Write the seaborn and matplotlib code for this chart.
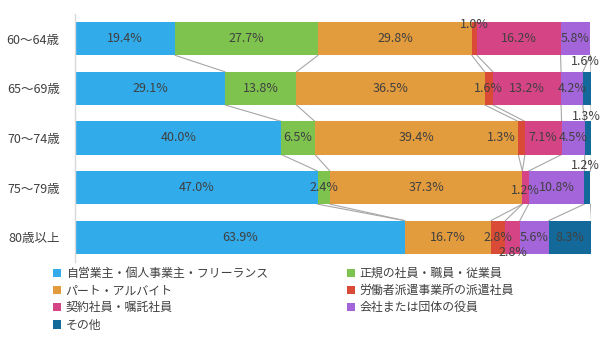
import numpy as np
import pandas as pd
import matplotlib
matplotlib.use('Agg')
import matplotlib.pyplot as plt
import seaborn as sns
from matplotlib.patches import Patch

sns.set_style('white')
plt.rcParams['font.family'] = ['Noto Sans CJK JP', 'DejaVu Sans']

######## data ########
ages = ['60～64歳', '65～69歳', '70～74歳', '75～79歳', '80歳以上']
series_names = ['自営業主・個人事業主・フリーランス', '正規の社員・職員・従業員', 'パート・アルバイト',
                '労働者派遣事業所の派遣社員', '契約社員・嘱託社員', '会社または団体の役員', 'その他']
self_emp = [19.4, 29.1, 40.0, 47.0, 63.9]
regular  = [27.7, 13.8, 6.5, 2.4, 0.0]
part     = [29.8, 36.5, 39.4, 37.3, 16.7]
dispatch = [1.0, 1.6, 1.3, 0.0, 2.8]
contract = [16.2, 13.2, 7.1, 1.2, 2.8]
officer  = [5.8, 4.2, 4.5, 10.8, 5.6]
other    = [0.0, 1.6, 1.3, 1.2, 8.3]

colors = ['#31ABE9', '#7FC34F', '#E29B3D', '#D94B36', '#D54585', '#A465DB', '#136A9A']
# labels that were moved by hand in the original: (row, series) -> (dx in %, dy in rows)
label_offsets = {(0, 3): (0, -0.29), (1, 6): (-0.3, -0.54), (2, 6): (-0.3, -0.43),
                 (3, 6): (-0.3, -0.45), (2, 3): (-4.0, 0), (4, 4): (0, 0.31), (3, 4): (0, 0.05)}

vals = np.array([self_emp, regular, part, dispatch, contract, officer, other]).T  # rows x series
cum = np.cumsum(vals, axis=1)
left = cum - vals
bar_h = 0.667

fig = plt.figure(figsize=(6.05, 3.53), dpi=100)
ax = fig.add_axes([75/605, 1-262/353, 516/605, 248/353])

# stacked bars: draw cumulative totals from last series to first so they overlap
for k in reversed(range(len(series_names))):
    df = pd.DataFrame({'age': ages, 'value': cum[:, k]})
    sns.barplot(data=df, x='value', y='age', orient='h', color=colors[k], saturation=1,
                width=bar_h, linewidth=0, ax=ax, zorder=2)

# series lines between bars
for i in range(len(ages)-1):
    for k in range(len(series_names)):
        ax.plot([cum[i, k], cum[i+1, k]], [i+bar_h/2, i+1-bar_h/2], color='#A6A6A6', lw=0.8, zorder=1)

# data labels
for i in range(len(ages)):
    for k in range(len(series_names)):
        v = vals[i, k]
        if v == 0:
            continue
        dx, dy = label_offsets.get((i, k), (0, 0))
        ax.text(left[i, k] + v/2 + dx, i + dy, f'{v:.1f}%', ha='center', va='center',
                fontsize=9, color='#404040', zorder=3)

ax.set_xlim(0, 100)
ax.set_ylim(4.5, -0.5)
ax.set_xlabel('')
ax.set_ylabel('')
ax.set_xticks([])
ax.tick_params(axis='y', length=0, pad=11, labelsize=9, labelcolor='#404040')
for s in ['top', 'right', 'bottom']:
    ax.spines[s].set_visible(False)
ax.spines['left'].set_color('#D9D9D9')
ax.spines['left'].set_linewidth(1)

handles = [Patch(facecolor=c, edgecolor='none', label=n) for c, n in zip(colors, series_names)]
legkw = dict(loc='upper left', frameon=False, fontsize=8.6, handlelength=0.7, handleheight=0.7,
             handletextpad=0.35, labelspacing=0.35, borderpad=0, borderaxespad=0, labelcolor='#404040')
fig.legend(handles=[handles[j] for j in [0, 2, 4, 6]], bbox_to_anchor=(53/605, 1-267/353), **legkw)
fig.legend(handles=[handles[j] for j in [1, 3, 5]], bbox_to_anchor=(347/605, 1-267/353), **legkw)

fig.savefig('out.png', dpi=100)
